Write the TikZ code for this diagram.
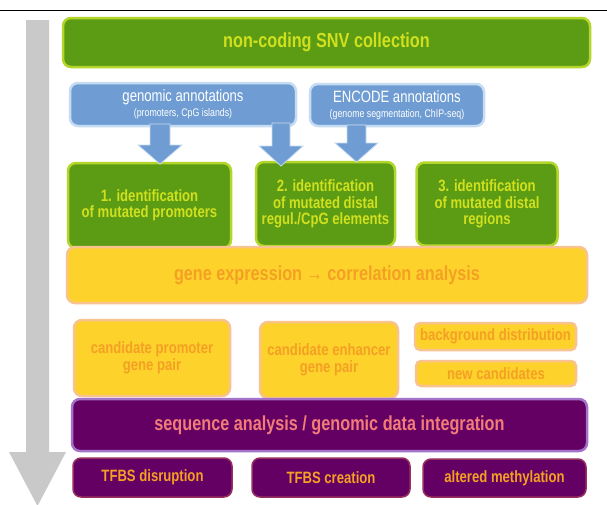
\documentclass[tikz,border=0pt]{standalone}
\usepackage{fontspec}
\setmainfont{Liberation Sans}[FakeStretch=0.8]
\begin{document}
\definecolor{grnfill}{HTML}{5B9C14}
\definecolor{grnedge}{HTML}{B4D52C}
\definecolor{grntext}{HTML}{D0E01E}
\definecolor{bluefill}{HTML}{6F9DD3}
\definecolor{blueedge}{HTML}{C6DCF2}
\definecolor{yelfill}{HTML}{FDD22B}
\definecolor{yeledge}{HTML}{F8C38E}
\definecolor{yeltext}{HTML}{F4A024}
\definecolor{purfill}{HTML}{640064}
\definecolor{puredge}{HTML}{A273C9}
\definecolor{puredgeb}{HTML}{98305E}
\definecolor{purtext}{HTML}{F27C78}
\definecolor{flowgray}{HTML}{C9C9C9}
\begin{tikzpicture}[x=1pt,y=-1pt,
  box/.style={rounded corners=8pt,line width=2.5pt,align=center,inner sep=0pt},
  big/.style={font=\bfseries\fontsize{20.3}{22}\selectfont},
  mid/.style={font=\bfseries\fontsize{16.4}{16.5}\selectfont},
  grnbox/.style={box,fill=grnfill,draw=grnedge,text=grntext},
  bluebox/.style={box,fill=bluefill,draw=blueedge,text=white},
  yelbox/.style={box,fill=yelfill,draw=yeledge,text=yeltext},
  purbox/.style={box,fill=purfill,draw=puredge,text=purtext},
  pursmall/.style={box,fill=purfill,draw=puredgeb,text=yeltext,line width=1.5pt},
  blockarrow/.style={fill=bluefill,draw=blueedge,line width=0.8pt}]
\useasboundingbox (0,0) rectangle (607,504);
\fill[white] (0,0) rectangle (607,504);
% rule at the top
\draw[line width=1pt] (0,10) -- (607,10);
% overall flow arrow on the left
\fill[flowgray] (26,20) -- (49,20) -- (49,452) -- (66,452) -- (37.5,506) -- (9,452) -- (26,452) -- cycle;

% level 1: SNV collection
\node[grnbox,big,minimum width=527pt,minimum height=49pt] (snv) at (326.5,42.5) {non-coding SNV collection};

% annotation sources
\node[bluebox,minimum width=226pt,minimum height=43pt] (gen) at (183,104.5)
  {{\fontsize{16.4}{17}\selectfont genomic annotations}\\[3pt]{\fontsize{11}{12}\selectfont (promoters, CpG islands)}};
\node[bluebox,minimum width=174pt,minimum height=42pt] (enc) at (397,105)
  {{\fontsize{16.4}{17}\selectfont ENCODE annotations}\\[3pt]{\fontsize{11}{12}\selectfont (genome segmentation, ChIP-seq)}};

% identification steps
\node[grnbox,mid,minimum width=163pt,minimum height=85pt] (id1) at (149.5,205.5)
  {1. identification\\of mutated promoters};
\node[grnbox,mid,minimum width=139pt,minimum height=84pt] (id2) at (325.5,204)
  {2. identification\\of mutated distal\\regul./CpG elements};
\node[grnbox,mid,minimum width=141pt,minimum height=83pt] (id3) at (487,204)
  {3. identification\\of mutated distal\\regions};

% block arrows from the annotations into the steps
\filldraw[blockarrow] (150,124) -- (170,124) -- (170,145) -- (182,145) -- (160,164) -- (138,145) -- (150,145) -- cycle;
\filldraw[blockarrow] (272,123) -- (290,123) -- (290,146) -- (303,146) -- (281,166) -- (259,146) -- (272,146) -- cycle;
\filldraw[blockarrow] (347,125) -- (366,125) -- (366,143) -- (378,143) -- (356.5,162) -- (335,143) -- (347,143) -- cycle;

% correlation analysis
\node[yelbox,big,minimum width=520pt,minimum height=56pt] (corr) at (327,275)
  {gene expression \textrightarrow\ correlation analysis};
\node[yelbox,mid,minimum width=156pt,minimum height=76pt] (cprom) at (152,358)
  {candidate promoter\\gene pair};
\node[yelbox,mid,minimum width=138pt,minimum height=76pt] (cenh) at (329,360)
  {candidate enhancer\\gene pair};
\node[yelbox,mid,rounded corners=5pt,minimum width=161pt,minimum height=27pt] (bg) at (495.5,336.5)
  {background distribution};
\node[yelbox,mid,rounded corners=5pt,minimum width=160pt,minimum height=25pt] (newc) at (496,373.5)
  {new candidates};

% sequence analysis
\node[purbox,big,minimum width=515pt,minimum height=52pt] (seq) at (329.5,425)
  {sequence analysis / genomic data integration};
\node[pursmall,mid,minimum width=159pt,minimum height=39pt] (dis) at (152.5,477.5)
  {TFBS disruption};
\node[pursmall,mid,minimum width=158pt,minimum height=39pt] (cre) at (331,477.5)
  {TFBS creation};
\node[pursmall,mid,minimum width=163pt,minimum height=38pt] (meth) at (504.5,478)
  {altered methylation};
\end{tikzpicture}
\end{document}
